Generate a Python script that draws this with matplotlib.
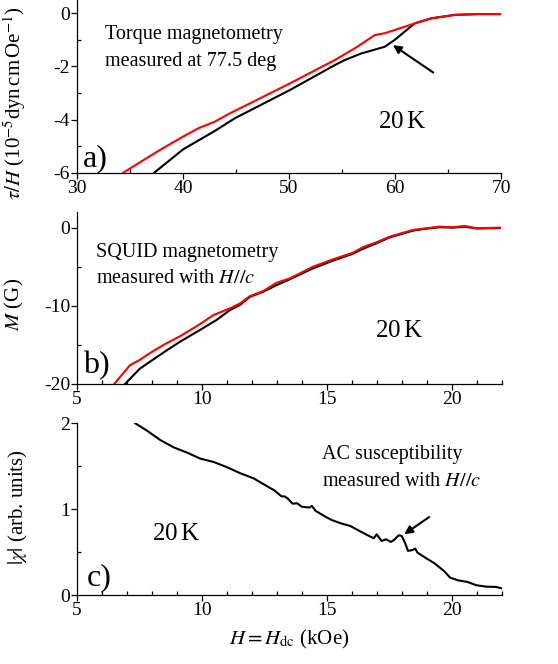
"""Three-panel magnetometry comparison at 20 K (torque, SQUID, AC susceptibility)."""
import matplotlib
matplotlib.use("Agg")
import matplotlib.pyplot as plt
from matplotlib.ticker import MultipleLocator

plt.rcParams["font.family"] = ["Liberation Serif", "DejaVu Serif"]
plt.rcParams["mathtext.fontset"] = "stix"
plt.rcParams["axes.unicode_minus"] = False

# panel a: torque / H vs field (kOe)
torque_red_h = [34.37, 37.19, 37.98, 40.02, 41.44, 43.0, 44.26, 48.03, 50.08, 54.32,
                56.2, 58.09, 59.03, 59.97, 61.86, 63.43, 65.63, 67.83, 70.0]
torque_red = [-6.0, -5.30, -5.11, -4.64, -4.33, -4.08, -3.80, -3.05, -2.64, -1.76,
              -1.32, -0.82, -0.75, -0.63, -0.38, -0.19, -0.06, -0.03, -0.03]
torque_blk_h = [37.29, 40.02, 43.0, 44.9, 50.08, 54.32, 55.26, 56.83, 57.46, 59.03,
                59.97, 60.91, 61.86, 63.43, 65.63, 67.83, 70.0]
torque_blk = [-6.0, -5.12, -4.43, -3.95, -2.89, -1.95, -1.76, -1.51, -1.44, -1.26,
              -1.0, -0.69, -0.38, -0.19, -0.06, -0.03, -0.03]

# panel b: SQUID magnetisation (G) vs field (kOe)
squid_red_h = [6.49, 7.12, 7.52, 7.99, 8.52, 9.12, 9.92, 10.45, 11.12, 11.52, 11.92,
               12.45, 12.99, 13.52, 14.45, 15.25, 16.05, 16.45, 16.99, 17.52, 18.45,
               18.99, 19.52, 20.05, 20.52, 20.99, 21.92]
squid_red = [-20.0, -17.6, -16.9, -15.9, -14.9, -13.9, -12.35, -11.2, -10.33, -9.7,
             -8.76, -8.12, -7.05, -6.49, -5.0, -4.05, -3.2, -2.5, -1.87, -1.15, -0.29,
             -0.08, 0.13, 0.05, 0.22, -0.08, 0.0]
squid_blk_h = [6.92, 7.52, 8.05, 8.59, 9.12, 9.92, 10.59, 11.12, 11.52, 11.92, 12.45,
               12.99, 13.52, 14.45, 15.25, 16.05, 16.45, 16.99, 17.52, 18.45, 18.99,
               19.52, 20.05, 20.52, 20.99, 21.92]
squid_blk = [-20.0, -18.03, -16.87, -15.7, -14.6, -13.1, -11.8, -10.55, -9.9, -8.85,
             -8.2, -7.35, -6.6, -5.2, -4.22, -3.33, -2.7, -2.0, -1.24, -0.38, -0.12,
             0.05, 0.0, 0.12, -0.1, -0.05]

# panel c: |chi| (arb. units) vs field (kOe)
chi_h = [7.33, 7.8, 8.33, 8.87, 9.4, 9.93, 10.47, 11.0, 11.53, 12.07, 12.6, 12.9,
         13.19, 13.31, 13.44, 13.63, 13.81, 14.0, 14.31, 14.4, 14.56, 14.94, 15.19,
         15.56, 15.94, 16.31, 16.69, 16.88, 17.0, 17.19, 17.38, 17.56, 17.69, 17.88,
         18.0, 18.13, 18.25, 18.44, 18.54, 18.63, 18.94, 19.31, 19.69, 19.94, 20.25,
         20.63, 21.0, 21.39, 21.77, 22.05]
chi = [2.0, 1.915, 1.806, 1.72, 1.66, 1.59, 1.55, 1.49, 1.42, 1.36, 1.27, 1.22,
       1.15, 1.15, 1.125, 1.065, 1.07, 1.03, 1.02, 1.04, 0.98, 0.915, 0.876,
       0.837, 0.806, 0.748, 0.69, 0.663, 0.709, 0.632, 0.651, 0.62, 0.643, 0.698,
       0.69, 0.612, 0.516, 0.527, 0.543, 0.496, 0.438, 0.372, 0.283, 0.205, 0.174,
       0.155, 0.116, 0.10, 0.097, 0.078]

TICK_FS = 14
TEXT_FS = 14.5
TEMP_FS = 18
PANEL_FS = 23


def style_axis(ax, xmaj, xmin, ymaj, ymin):
    for side in ("top", "right"):
        ax.spines[side].set_visible(False)
    for side in ("left", "bottom"):
        ax.spines[side].set_linewidth(0.9)
    ax.xaxis.set_major_locator(MultipleLocator(xmaj))
    ax.xaxis.set_minor_locator(MultipleLocator(xmin))
    ax.yaxis.set_major_locator(MultipleLocator(ymaj))
    ax.yaxis.set_minor_locator(MultipleLocator(ymin))
    ax.tick_params(which="major", direction="out", length=4, width=0.9,
                   labelsize=TICK_FS, pad=1)
    ax.tick_params(which="minor", direction="in", length=3, width=0.9)


fig = plt.figure(figsize=(5.58, 6.64), dpi=100)
ax_a = fig.add_axes([0.138, 0.740, 0.760, 0.260])
ax_b = fig.add_axes([0.138, 0.4217, 0.761, 0.259])
ax_c = fig.add_axes([0.138, 0.1035, 0.761, 0.259])

# a) torque
ax_a.plot(torque_blk_h, torque_blk, color="black", lw=1.5)
ax_a.plot(torque_red_h, torque_red, color="red", lw=1.5)
ax_a.set_xlim(30, 70)
ax_a.set_ylim(-6, 0.5)
style_axis(ax_a, 10, 5, 2, 1)
ax_a.set_ylabel(r"$\tau/H$ (10$^{-5}$dyn$\,$cm$\,$Oe$^{-1}$)", fontsize=15)
ax_a.yaxis.set_label_coords(-0.115, 0.40)
ax_a.text(0.066, 0.772, "Torque magnetometry", transform=ax_a.transAxes,
          fontsize=TEXT_FS, va="baseline")
ax_a.text(0.066, 0.618, "measured at 77.5 deg", transform=ax_a.transAxes,
          fontsize=TEXT_FS, va="baseline")
ax_a.text(0.766, 0.26, "20$\\,$K", transform=ax_a.transAxes,
          fontsize=TEMP_FS, ha="center", va="baseline")
ax_a.text(0.013, 0.035, "a)", transform=ax_a.transAxes,
          fontsize=PANEL_FS, va="baseline")
ax_a.annotate("", xy=(59.8, -1.2), xytext=(63.6, -2.23),
              arrowprops=dict(arrowstyle="-|>", color="black", lw=1.5,
                              mutation_scale=12, shrinkA=0, shrinkB=0))

# b) SQUID
ax_b.plot(squid_blk_h, squid_blk, color="black", lw=1.5)
ax_b.plot(squid_red_h, squid_red, color="red", lw=1.5)
ax_b.set_xlim(5, 22)
ax_b.set_ylim(-20, 2)
style_axis(ax_b, 5, 1, 10, 5)
ax_b.set_ylabel(r"$M$ (G)", fontsize=15)
ax_b.yaxis.set_label_coords(-0.12, 0.46)
ax_b.text(0.045, 0.74, "SQUID magnetometry", transform=ax_b.transAxes,
          fontsize=TEXT_FS, va="baseline")
ax_b.text(0.045, 0.585, r"measured with $H//c$", transform=ax_b.transAxes,
          fontsize=TEXT_FS, va="baseline")
ax_b.text(0.758, 0.275, "20$\\,$K", transform=ax_b.transAxes,
          fontsize=TEMP_FS, ha="center", va="baseline")
ax_b.text(0.013, 0.062, "b)", transform=ax_b.transAxes,
          fontsize=PANEL_FS, va="baseline")

# c) AC susceptibility
ax_c.plot(chi_h, chi, color="black", lw=1.5)
ax_c.set_xlim(5, 22)
ax_c.set_ylim(0, 2)
style_axis(ax_c, 5, 1, 1, 0.5)
ax_c.set_ylabel(r"$|\chi|$ (arb. units)", fontsize=15)
ax_c.yaxis.set_label_coords(-0.11, 0.51)
ax_c.set_xlabel(r"$H = H_{\rm dc}$ (kOe)", fontsize=15, labelpad=6)
ax_c.text(0.578, 0.79, "AC susceptibility", transform=ax_c.transAxes,
          fontsize=TEXT_FS, va="baseline")
ax_c.text(0.578, 0.635, r"measured with $H//c$", transform=ax_c.transAxes,
          fontsize=TEXT_FS, va="baseline")
ax_c.text(0.233, 0.32, "20$\\,$K", transform=ax_c.transAxes,
          fontsize=TEMP_FS, ha="center", va="baseline")
ax_c.text(0.022, 0.056, "c)", transform=ax_c.transAxes,
          fontsize=PANEL_FS, va="baseline")
ax_c.annotate("", xy=(18.1, 0.71), xytext=(19.1, 0.91),
              arrowprops=dict(arrowstyle="-|>", color="black", lw=1.5,
                              mutation_scale=12, shrinkA=0, shrinkB=0))

fig.savefig("out.png", dpi=100)
plt.close(fig)
